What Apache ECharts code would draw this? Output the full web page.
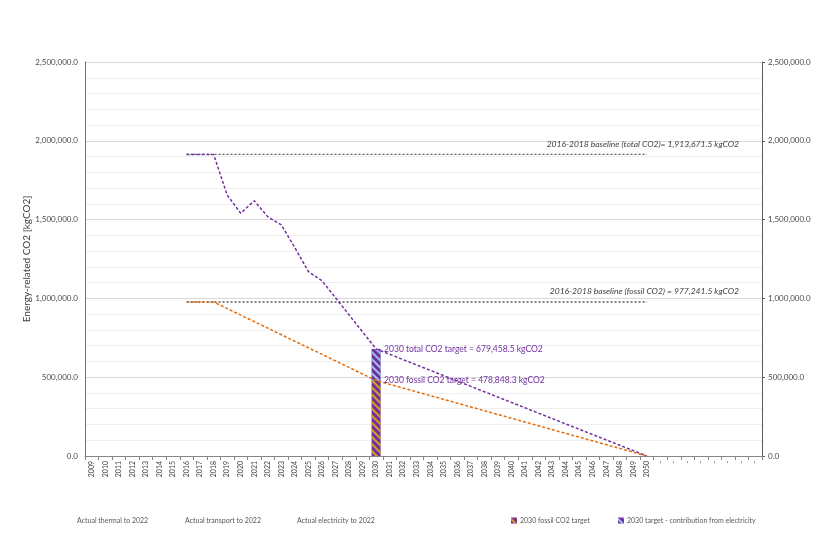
<!DOCTYPE html>
<html>
<head>
<meta charset="utf-8">
<script src="https://cdn.jsdelivr.net/npm/echarts@6/dist/echarts.min.js"></script>
<style>
html,body{margin:0;padding:0;background:#fff;}
#chart{width:840px;height:540px;}
</style>
</head>
<body>
<div id="chart"></div>
<script>
// ---- data ----
const years = [2009,2010,2011,2012,2013,2014,2015,2016,2017,2018,2019,2020,2021,2022,2023,2024,2025,2026,2027,2028,2029,2030,2031,2032,2033,2034,2035,2036,2037,2038,2039,2040,2041,2042,2043,2044,2045,2046,2047,2048,2049,2050];
const blankLabels = ['-','-','-','-','-','-','-','-'];
const xLabels = years.map(String).concat(blankLabels);

const totalYears  = [2016, 2017, 2018, 2019, 2020, 2021, 2022, 2023, 2024, 2025, 2026, 2030, 2050];
const totalValues = [1913671.5, 1913671.5, 1913671.5, 1656000, 1540000, 1620000, 1518000, 1466000, 1322000, 1170000, 1112000, 679458.5, 0];

const fossilYears  = [2016, 2017, 2018, 2030, 2050];
const fossilValues = [977241.5, 977241.5, 977241.5, 478848.3, 0];

const baselineYears = [2016, 2050];
const baselineTotal = 1913671.5;
const baselineFossil = 977241.5;

const targetYear = 2030;
const fossilTarget2030 = 478848.3;
const totalTarget2030 = 679458.5;
const electricityContribution2030 = 200610.2;

const legendNames = ['Actual thermal to 2022','Actual transport to 2022','Actual electricity to 2022','2030 fossil CO2 target','2030 target - contribution from electricity'];

const labelTotalBaseline = '2016-2018 baseline (total CO2)= 1,913,671.5 kgCO2';
const labelFossilBaseline = '2016-2018 baseline (fossil CO2) = 977,241.5 kgCO2';
const labelTotalTarget = '2030 total CO2 target = 679,458.5 kgCO2';
const labelFossilTarget = '2030 fossil CO2 target = 478,848.3 kgCO2';

// ---- helpers ----
const N = xLabels.length;
function toSeries(ys, vs, labelYear, labelCfg) {
  const arr = new Array(N).fill(null);
  ys.forEach((y, i) => {
    const idx = years.indexOf(y);
    if (y === labelYear && labelCfg) arr[idx] = { value: vs[i], label: labelCfg };
    else arr[idx] = vs[i];
  });
  return arr;
}
const fmt = v => Number(v).toLocaleString('en-US', {minimumFractionDigits:1, maximumFractionDigits:1});

const PURPLE = '#7030A0';
const ORANGE = '#E46C0A';
const FONT = 'Lato';

const chart = echarts.init(document.getElementById('chart'), null, {renderer:'canvas'});

const baseLabel = (txt) => ({
  show: true, formatter: txt, position: 'top', align: 'right', distance: 6,
  offset: [92, 0], fontStyle: 'italic', fontSize: 8.5, color: '#404040', fontFamily: FONT
});
const targetLabel = (txt) => ({
  show: true, formatter: txt, position: 'right', distance: 8,
  fontSize: 8.5, color: PURPLE, fontFamily: FONT
});

const barData = (v) => xLabels.map((_, i) => years[i] === targetYear ? v : null);

const option = {
  backgroundColor: '#fff',
  animation: false,
  textStyle: { fontFamily: FONT },
  grid: { left: 85, right: 78, top: 62, bottom: 84 },
  legend: [
    { data: [legendNames[0]], left: 63, top: 512 },
    { data: [legendNames[1]], left: 171, top: 512 },
    { data: [legendNames[2]], left: 283, top: 512 },
    { data: [legendNames[3]], left: 506, top: 512 },
    { data: [legendNames[4]], left: 613, top: 512 }
  ].map(l => Object.assign(l, {
    icon: 'rect', itemWidth: 6, itemHeight: 6, itemGap: 4,
    textStyle: { fontSize: 7, color: '#595959', fontFamily: FONT, padding: [0,0,0,-2] },
    selectedMode: false
  })),
  xAxis: {
    type: 'category', data: xLabels, boundaryGap: true,
    axisLine: { lineStyle: { color: '#868686', width: 1 } },
    axisTick: { show: true, alignWithLabel: false, length: 4, lineStyle: { color: '#868686' } },
    axisLabel: { interval: 0, rotate: 90, fontSize: 7, color: '#404040', margin: 5, fontFamily: FONT }
  },
  yAxis: [
    {
      type: 'value', min: 0, max: 2500000, interval: 500000, position: 'left',
      name: 'Energy-related CO2 [kgCO2]', nameLocation: 'middle', nameGap: 53, nameMoveOverlap: false,
      nameTextStyle: { fontSize: 10, color: '#404040', fontFamily: FONT },
      axisLine: { show: true, lineStyle: { color: '#737373' } },
      axisTick: { show: false },
      axisLabel: { formatter: fmt, fontSize: 8, color: '#4a4a4a', margin: 7, fontFamily: FONT },
      splitLine: { show: true, lineStyle: { color: '#D9D9D9', width: 1 } },
      minorTick: { show: false, splitNumber: 5 },
      minorSplitLine: { show: true, lineStyle: { color: '#EFEFEF', width: 1 } }
    },
    {
      type: 'value', min: 0, max: 2500000, interval: 500000, position: 'right',
      axisLine: { show: true, lineStyle: { color: '#595959' } },
      axisTick: { show: true, length: 3, lineStyle: { color: '#595959' } },
      axisLabel: { formatter: fmt, fontSize: 8, color: '#4a4a4a', margin: 6, fontFamily: FONT },
      splitLine: { show: false }
    }
  ],
  series: [
    { name: legendNames[0], type: 'line', data: [], color: 'rgba(0,0,0,0)' },
    { name: legendNames[1], type: 'line', data: [], color: 'rgba(0,0,0,0)' },
    { name: legendNames[2], type: 'line', data: [], color: 'rgba(0,0,0,0)' },
    {
      name: legendNames[3], type: 'bar', stack: 'target', barWidth: 9, z: 2,
      data: barData(fossilTarget2030),
      itemStyle: {
        color: PURPLE,
        decal: { symbol: 'rect', symbolSize: 1, dashArrayX: [1, 0], dashArrayY: [2, 3], rotation: Math.PI / 4, color: '#D9A21B' }
      }
    },
    {
      name: legendNames[4], type: 'bar', stack: 'target', barWidth: 9, z: 2,
      data: barData(electricityContribution2030),
      itemStyle: {
        color: PURPLE,
        decal: { symbol: 'rect', symbolSize: 1, dashArrayX: [1, 0], dashArrayY: [2, 3], rotation: Math.PI / 4, color: '#9DC3E6' }
      }
    },
    {
      name: 'baseline total', type: 'line', connectNulls: true, z: 3,
      data: toSeries(baselineYears, [baselineTotal, baselineTotal], 2050, baseLabel(labelTotalBaseline)),
      symbol: 'circle', symbolSize: 0.01, showSymbol: true,
      lineStyle: { color: '#595959', width: 1.3, type: [2, 2] }, itemStyle: { color: '#595959' }
    },
    {
      name: 'baseline fossil', type: 'line', connectNulls: true, z: 3,
      data: toSeries(baselineYears, [baselineFossil, baselineFossil], 2050, baseLabel(labelFossilBaseline)),
      symbol: 'circle', symbolSize: 0.01, showSymbol: true,
      lineStyle: { color: '#595959', width: 1.3, type: [2, 2] }, itemStyle: { color: '#595959' }
    },
    {
      name: 'total CO2', type: 'line', connectNulls: true, z: 4,
      data: toSeries(totalYears, totalValues, targetYear, targetLabel(labelTotalTarget)),
      symbol: 'circle', symbolSize: 0.01, showSymbol: true,
      lineStyle: { color: PURPLE, width: 1.5, type: [3, 2] }, itemStyle: { color: PURPLE }
    },
    {
      name: 'fossil CO2', type: 'line', connectNulls: true, z: 4,
      data: toSeries(fossilYears, fossilValues, targetYear, targetLabel(labelFossilTarget)),
      symbol: 'circle', symbolSize: 0.01, showSymbol: true,
      lineStyle: { color: ORANGE, width: 1.5, type: [3, 2] }, itemStyle: { color: ORANGE }
    }
  ]
};
chart.setOption(option);
</script>
</body>
</html>
